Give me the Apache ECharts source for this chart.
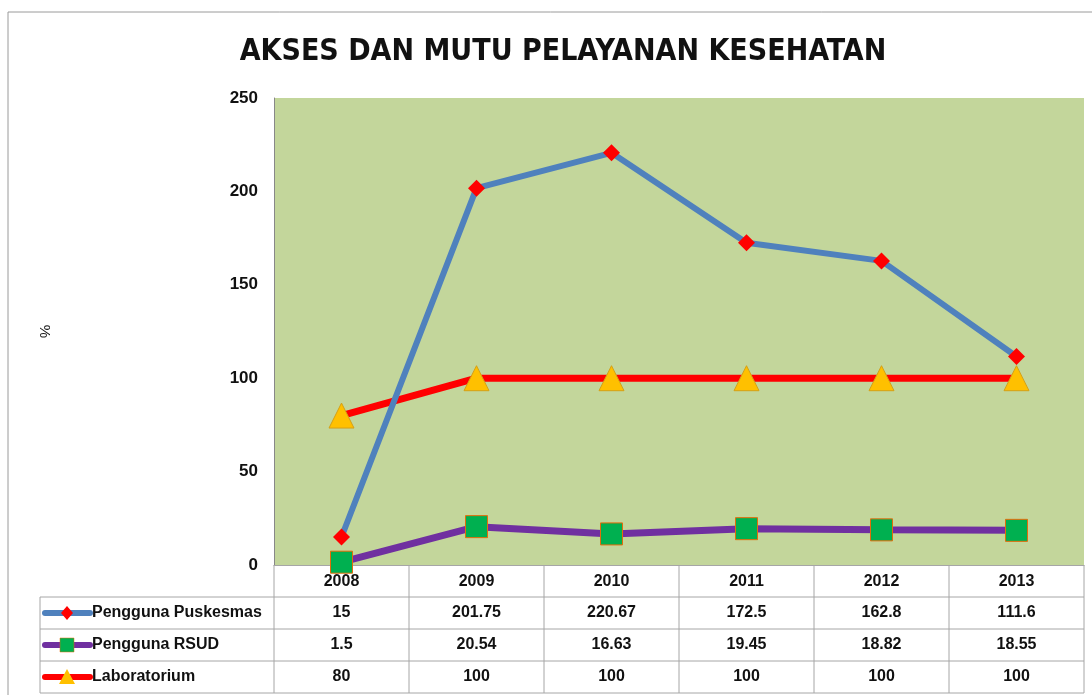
<!DOCTYPE html>
<html>
<head>
<meta charset="utf-8">
<title>Akses dan Mutu Pelayanan Kesehatan</title>
<script src="https://cdn.jsdelivr.net/npm/echarts@6/dist/echarts.min.js"></script>
<style>
  html, body { margin: 0; padding: 0; background: #fff; }
  #chart { width: 1092px; height: 695px; }
</style>
</head>
<body>
<div id="chart"></div>
<script>
// data
var years = ['2008', '2009', '2010', '2011', '2012', '2013'];
var puskesmas = [15, 201.75, 220.67, 172.5, 162.8, 111.6];
var rsud = [1.5, 20.54, 16.63, 19.45, 18.82, 18.55];
var lab = [80, 100, 100, 100, 100, 100];
var seriesNames = ['Pengguna Puskesmas', 'Pengguna RSUD', 'Laboratorium'];

var font = '"Liberation Sans", sans-serif';
var titleFont = '"DejaVu Sans Condensed", "Liberation Sans", sans-serif';
var lineGray = '#a6a6a6';

var chart = echarts.init(document.getElementById('chart'));

var option = {
    animation: false,
    title: {
        text: 'AKSES DAN MUTU PELAYANAN KESEHATAN',
        left: 558,
        top: 32,
        textAlign: 'center',
        textStyle: { fontFamily: titleFont, fontSize: 30, fontWeight: 'bold', color: '#111' }
    },
    grid: { left: 274, right: 8, top: 98, bottom: 130, show: true, backgroundColor: '#c3d69b', borderWidth: 0 },
    xAxis: {
        type: 'category',
        data: years,
        boundaryGap: true,
        axisLine: { show: true, lineStyle: { color: lineGray } },
        axisTick: { show: false },
        axisLabel: { margin: 9, fontFamily: font, fontSize: 16, fontWeight: 'bold', color: '#111' }
    },
    yAxis: {
        type: 'value',
        min: 0, max: 250, interval: 50,
        name: '%',
        nameLocation: 'middle',
        nameGap: 222,
        nameRotate: -90,
        nameTextStyle: { fontFamily: font, fontSize: 15, color: '#111' },
        splitLine: { show: false },
        axisLine: { show: true, lineStyle: { color: '#888' } },
        axisTick: { show: false },
        axisLabel: { margin: 16, fontFamily: font, fontSize: 17, fontWeight: 'bold', color: '#111' }
    },
    series: [
        {
            name: seriesNames[0], type: 'line', data: puskesmas,
            lineStyle: { color: '#4f81bd', width: 6 },
            itemStyle: { color: '#ff0000' },
            symbol: 'diamond', symbolSize: 17, z: 3
        },
        {
            name: seriesNames[1], type: 'line', data: rsud,
            lineStyle: { color: '#7030a0', width: 7 },
            itemStyle: { color: '#00b050', borderColor: '#e46c0a', borderWidth: 1 },
            symbol: 'rect', symbolSize: 22, z: 2
        },
        {
            name: seriesNames[2], type: 'line', data: lab,
            lineStyle: { color: '#ff0000', width: 7 },
            itemStyle: { color: '#ffc000', borderColor: '#d4a017', borderWidth: 1 },
            symbol: 'triangle', symbolSize: 25, z: 2
        }
    ]
};
chart.setOption(option);

// data table under the plot, built from the same arrays
var values = [puskesmas, rsud, lab];
var iconStyles = [
    { line: '#4f81bd', sym: 'diamond', fill: '#ff0000' },
    { line: '#7030a0', sym: 'rect', fill: '#00b050' },
    { line: '#ff0000', sym: 'triangle', fill: '#ffc000' }
];
var x0 = chart.convertToPixel({ xAxisIndex: 0 }, years[0]);
var x1 = chart.convertToPixel({ xAxisIndex: 0 }, years[1]);
var step = x1 - x0;
var tableLeft = 40, plotLeft = x0 - step / 2, plotRight = plotLeft + step * years.length;
var headTop = 565, rowTops = [597, 629, 661], rowBottom = 693;
var g = [];
function hline(xa, xb, y) {
    g.push({ type: 'line', shape: { x1: xa, y1: y, x2: xb, y2: y }, style: { stroke: lineGray, lineWidth: 1 }, silent: true });
}
function vline(x, ya, yb) {
    g.push({ type: 'line', shape: { x1: x, y1: ya, x2: x, y2: yb }, style: { stroke: lineGray, lineWidth: 1 }, silent: true });
}
rowTops.forEach(function (y) { hline(tableLeft, plotRight, y); });
hline(tableLeft, plotRight, rowBottom);
vline(tableLeft, rowTops[0], rowBottom);
for (var c = 0; c <= years.length; c++) {
    vline(plotLeft + c * step, headTop, rowBottom);
}
// outer chart border
g.push({ type: 'rect', shape: { x: 8, y: 12, width: 1100, height: 700 }, style: { fill: 'none', stroke: '#9a9a9a', lineWidth: 1 }, silent: true });

values.forEach(function (arr, r) {
    var yc = (rowTops[r] + (r + 1 < rowTops.length ? rowTops[r + 1] : rowBottom)) / 2;
    var ic = iconStyles[r];
    g.push({ type: 'line', shape: { x1: 45, y1: yc, x2: 90, y2: yc }, style: { stroke: ic.line, lineWidth: 6, lineCap: 'round' }, silent: true });
    if (ic.sym === 'diamond') {
        g.push({ type: 'polygon', shape: { points: [[67, yc - 7], [73, yc], [67, yc + 7], [61, yc]] }, style: { fill: ic.fill }, silent: true });
    } else if (ic.sym === 'rect') {
        g.push({ type: 'rect', shape: { x: 60, y: yc - 7, width: 14, height: 14 }, style: { fill: ic.fill, stroke: '#e46c0a', lineWidth: 0.5 }, silent: true });
    } else {
        g.push({ type: 'polygon', shape: { points: [[67, yc - 8], [75, yc + 7], [59, yc + 7]] }, style: { fill: ic.fill }, silent: true });
    }
    g.push({ type: 'text', x: 92, y: yc, style: { text: seriesNames[r], fontFamily: font, fontSize: 16, fontWeight: 'bold', fill: '#111', verticalAlign: 'middle' }, silent: true });
    arr.forEach(function (v, c) {
        var xc = chart.convertToPixel({ xAxisIndex: 0 }, years[c]);
        g.push({ type: 'text', x: xc, y: yc, style: { text: String(v), fontFamily: font, fontSize: 16, fontWeight: 'bold', fill: '#111', align: 'center', verticalAlign: 'middle' }, silent: true });
    });
});
chart.setOption({ graphic: g });
</script>
</body>
</html>
